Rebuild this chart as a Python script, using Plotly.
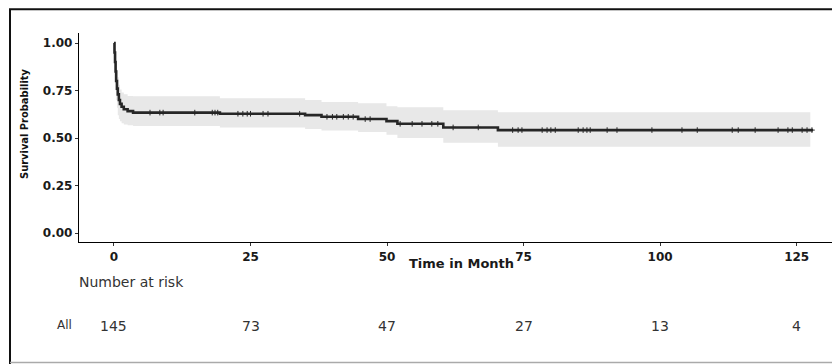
import plotly.graph_objects as go

# ---- data ----
step_times = [0, 0.1, 0.2, 0.3, 0.4, 0.55, 0.7, 0.9, 1.1, 1.4, 1.8, 2.5, 3.5,
              19.4, 35.0, 38.0, 44.7, 49.9, 51.9, 60.3, 70.3, 128.0]
surv = [1.0, 0.95, 0.90, 0.85, 0.80, 0.76, 0.73, 0.70, 0.68, 0.665, 0.652, 0.642, 0.634,
        0.628, 0.621, 0.612, 0.600, 0.589, 0.575, 0.556, 0.542, 0.542]
upper = [1.0, 0.99, 0.97, 0.94, 0.90, 0.86, 0.82, 0.78, 0.755, 0.74, 0.73, 0.722, 0.72,
         0.709, 0.70, 0.69, 0.683, 0.668, 0.662, 0.647, 0.636, 0.636]
lower = [1.0, 0.90, 0.82, 0.75, 0.70, 0.66, 0.62, 0.60, 0.588, 0.578, 0.572, 0.568, 0.563,
         0.555, 0.548, 0.540, 0.532, 0.518, 0.500, 0.476, 0.454, 0.454]
band_end = 127.5

censor_times = [6.6, 8.4, 9.0, 14.8, 18.0, 18.5, 19.0, 22.7, 23.6, 24.4, 25.0, 27.3, 28.2,
                34.0, 39.0, 40.0, 40.8, 42.0, 42.9, 43.8, 46.0, 46.9, 52.4, 54.6, 56.4,
                58.2, 59.3, 62.1, 66.7, 73.0, 74.0, 74.7, 78.4, 79.3, 80.0, 80.8, 85.0,
                85.9, 86.6, 87.2, 90.3, 92.1, 98.5, 104.0, 106.8, 113.2, 114.3, 117.4,
                121.6, 123.4, 124.2, 126.0, 126.9, 127.8]

risk_times = [0, 25, 50, 75, 100, 125]
risk_counts = [145, 73, 47, 27, 13, 4]
y_ticks = [0.0, 0.25, 0.5, 0.75, 1.0]
y_ticklabels = ["0.00", "0.25", "0.50", "0.75", "1.00"]


def surv_at(t):
    v = surv[0]
    for tt, s in zip(step_times, surv):
        if tt <= t:
            v = s
    return v


band_t = step_times[:-1] + [band_end]

fig = go.Figure()
fig.add_trace(go.Scatter(x=band_t, y=upper, mode="lines", line=dict(width=0, shape="hv"),
                         hoverinfo="skip", showlegend=False))
fig.add_trace(go.Scatter(x=band_t, y=lower, mode="lines", line=dict(width=0, shape="hv"),
                         fill="tonexty", fillcolor="#e8e8e8", hoverinfo="skip",
                         showlegend=False))
fig.add_trace(go.Scatter(x=step_times, y=surv, mode="lines",
                         line=dict(color="#262626", width=2.6, shape="hv"),
                         showlegend=False))
fig.add_trace(go.Scatter(x=censor_times, y=[surv_at(t) for t in censor_times], mode="markers",
                         marker=dict(symbol="cross-thin", size=4,
                                     line=dict(color="#262626", width=1)),
                         showlegend=False))

tick_font = dict(family="DejaVu Sans", size=12, color="#1a1a1a", weight="bold")

# the page body adds an 8px offset; margins compensate so the plot lands where the reference has it
fig.update_layout(
    width=840, height=364,
    margin=dict(l=71, r=0, t=25, b=130),
    paper_bgcolor="white", plot_bgcolor="white",
    xaxis=dict(range=[-6.4, 134.4], tickvals=risk_times, showgrid=False, zeroline=False,
               showline=True, linecolor="black", linewidth=1.3,
               ticks="outside", ticklen=3, tickcolor="#333", tickwidth=1,
               tickfont=tick_font),
    yaxis=dict(range=[-0.047, 1.053], tickvals=y_ticks, ticktext=y_ticklabels,
               showgrid=False, zeroline=False,
               showline=True, linecolor="black", linewidth=1.3,
               ticks="outside", ticklen=3, tickcolor="#333", tickwidth=1,
               tickfont=tick_font),
)

W = 769.0
H = 209.0


def px_x(px):
    return (px - 79) / W


def px_y(py):
    return (242 - py) / H


annotations = [
    dict(text="Time in Month", x=px_x(461), y=px_y(263), xref="paper", yref="paper",
         xanchor="center", yanchor="middle", showarrow=False,
         font=dict(family="DejaVu Sans", size=13, color="#1a1a1a", weight="bold")),
    dict(text="Survival Probability", x=px_x(24), y=px_y(123), xref="paper", yref="paper",
         xanchor="center", yanchor="middle", textangle=-90, showarrow=False,
         font=dict(family="Liberation Sans Narrow, DejaVu Sans Condensed", size=11,
                   color="#111", weight="bold")),
    dict(text="Number at risk", x=px_x(77), y=px_y(282), xref="paper", yref="paper",
         xanchor="left", yanchor="middle", showarrow=False,
         font=dict(family="DejaVu Sans", size=14, color="#333")),
    dict(text="All", x=px_x(74), y=px_y(325), xref="paper", yref="paper",
         xanchor="right", yanchor="middle", showarrow=False,
         font=dict(family="DejaVu Sans", size=12, color="#333")),
]
for t, n in zip(risk_times, risk_counts):
    annotations.append(dict(text=str(n), x=t, y=px_y(326), xref="x", yref="paper",
                            xanchor="center", yanchor="middle", showarrow=False,
                            font=dict(family="DejaVu Sans", size=14, color="#333")))
fig.update_layout(annotations=annotations)

top_y = px_y(9.2)
fig.update_layout(shapes=[
    dict(type="line", xref="paper", yref="paper", x0=px_x(10), x1=px_x(10), y0=px_y(364), y1=top_y,
         line=dict(color="#111", width=2)),
    dict(type="line", xref="paper", yref="paper", x0=px_x(9), x1=1.05, y0=top_y, y1=top_y,
         line=dict(color="#111", width=2)),
    dict(type="line", xref="paper", yref="paper", x0=px_x(10), x1=1.05, y0=px_y(362.5), y1=px_y(362.5),
         line=dict(color="#aaaaaa", width=1.5)),
])

fig.write_html("out.html")
